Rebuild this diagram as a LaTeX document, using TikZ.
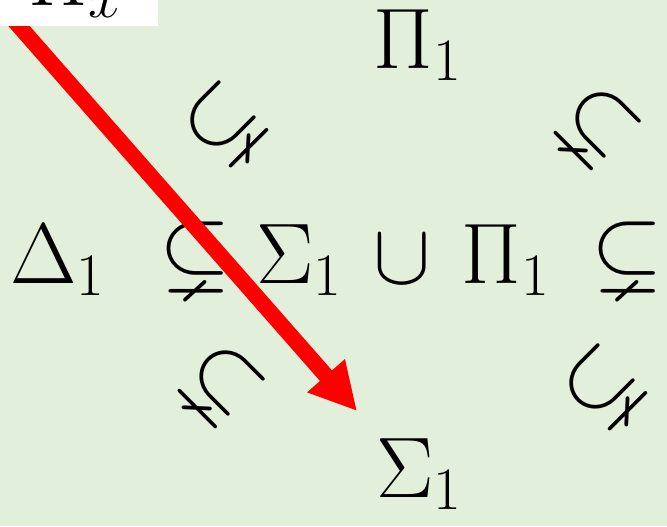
\RequirePackage{fix-cm}
\documentclass[tikz,border=0pt]{standalone}
\usepackage{amsmath,amssymb}
\usetikzlibrary{arrows.meta,positioning,calc}
\definecolor{bgc}{HTML}{E2EFDA}
\definecolor{arrc}{HTML}{FF0000}

\begin{document}
\begin{tikzpicture}[x=0.5pt,y=-0.5pt,
      sym/.style={inner sep=0pt,font=\fontsize{43}{50}\selectfont},
      rel/.style={inner sep=0pt,font=\fontsize{46}{52}\selectfont},
      drel/.style={rel,anchor=center},
      >=Triangle]
    \useasboundingbox (0,0) rectangle (667,526);
    \fill[bgc] (0,0) rectangle (667,526);
    % middle row
    \node[sym,anchor=base west] (d1) at (10,283) {$\Delta_1$};
    \node[rel,anchor=base] (s1) at (195,280) {$\subsetneq$};
    \node[sym,anchor=base west] (sg) at (256,283) {$\Sigma_1$};
    \node[sym,anchor=base] (cup) at (402,283) {$\cup$};
    \node[sym,anchor=base west] (pi) at (461,283) {$\Pi_1$};
    \node[rel,anchor=base] (s2) at (627,280) {$\subsetneq$};
    % top and bottom
    \node[sym,anchor=base west] (pitop) at (373,68) {$\Pi_1$};
    \node[sym,anchor=base west] (sgbot) at (376,497) {$\Sigma_1$};
    % diagonal inclusions
    \node[drel,rotate=45] (ul) at (225,125) {$\subsetneq$};
    \node[drel,rotate=-45] (ur) at (597,127) {$\subsetneq$};
    \node[drel,rotate=-45] (ll) at (221,385) {$\subsetneq$};
    \node[drel,rotate=45] (lr) at (604,388) {$\subsetneq$};
    % red arrow
    \coordinate (tail) at (12,18);
    \coordinate (tip) at (357,411);
    \draw[arrc,line width=8pt,-{Triangle[length=23.5pt,width=23.5pt]}] (tail) -- (tip);
    % cut-off caption box
    \fill[white] (0,0) rectangle (158,26);
    \begin{scope}
      \clip (0,0) rectangle (158,26);
      \node[sym,anchor=base west] (cap) at (28,5) {$\Pi_x$};
    \end{scope}
  \end{tikzpicture}
\end{document}
